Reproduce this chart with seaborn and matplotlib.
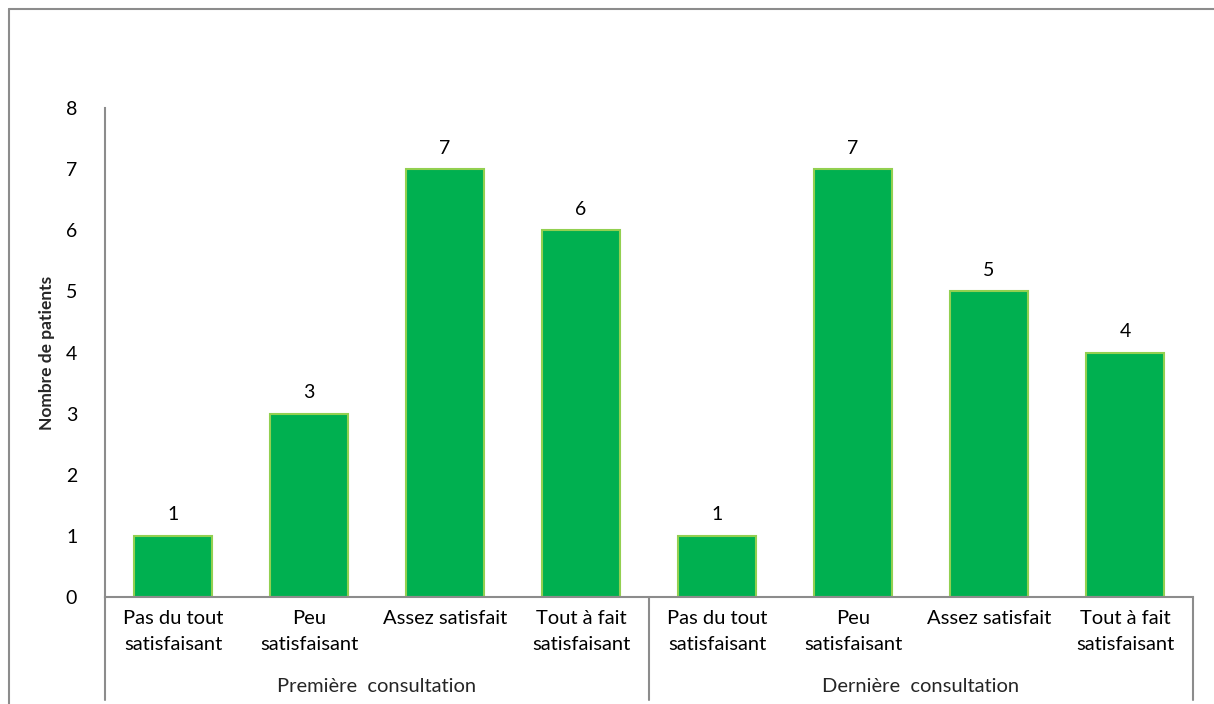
import pandas as pd
import seaborn as sns
import matplotlib.pyplot as plt
from matplotlib.lines import Line2D

# Données
groupes = ['Première  consultation', 'Dernière  consultation']
niveaux = ['Pas du tout\nsatisfaisant', 'Peu\nsatisfaisant', 'Assez satisfait', 'Tout à fait\nsatisfaisant']
premiere = [1, 3, 7, 6]
derniere = [1, 7, 5, 4]

# Table longue pour seaborn
df = pd.DataFrame({
    'cle': [f'{g}|{n}' for g in groupes for n in niveaux],
    'niveau': niveaux * 2,
    'patients': premiere + derniere,
})

sns.set_theme(style='white')
plt.rcParams['font.family'] = ['Lato', 'DejaVu Sans']

fig = plt.figure(figsize=(12.14, 7.04), dpi=100)
ax = fig.add_axes([105 / 1214, 1 - 597 / 704, (1193 - 105) / 1214, (597 - 108) / 704])

sns.barplot(data=df, x='cle', y='patients', color='#00B050', saturation=1,
            width=0.57, edgecolor='#92D050', linewidth=1.5, ax=ax)

# Étiquettes de valeurs
for c in ax.containers:
    ax.bar_label(c, fmt='%d', padding=9, fontsize=14, color='#000000')

ax.set_xlim(-0.5, len(df) - 0.5)
ax.set_ylim(0, 8)
ax.set_yticks(range(0, 9))
ax.tick_params(axis='y', length=0, pad=20, labelsize=14, labelcolor='#000000')
ax.set_xticks(range(len(df)))
ax.set_xticklabels(df['niveau'], fontsize=14.5, linespacing=1.65)
ax.tick_params(axis='x', length=0, pad=9, labelcolor='#000000')
ax.set_xlabel('')
ax.set_ylabel('Nombre de patients', fontsize=12.5, fontweight='bold', labelpad=8)

sns.despine(ax=ax)
for s in ['left', 'bottom']:
    ax.spines[s].set_color('#8C8C8C')
    ax.spines[s].set_linewidth(1.5)

# Séparateurs des groupes sous l'axe
bas = -(700 - 597) / (597 - 108)
for xs in [0, 0.5, 1]:
    ax.plot([xs, xs], [0, bas], transform=ax.transAxes, color='#8C8C8C',
            lw=1.5, clip_on=False)

# Noms des groupes
for i, g in enumerate(groupes):
    ax.text(0.25 + 0.5 * i, -(686 - 597) / (597 - 108), g, transform=ax.transAxes,
            ha='center', va='center', fontsize=14.5)

# Cadre de la figure
x0, y0 = 9 / 1214, 1 - 9 / 704
fig.add_artist(Line2D([x0, x0], [0, y0], color='#8C8C8C', lw=1.5))
fig.add_artist(Line2D([x0, 1], [y0, y0], color='#8C8C8C', lw=1.5))

fig.savefig('out.png', dpi=100)
